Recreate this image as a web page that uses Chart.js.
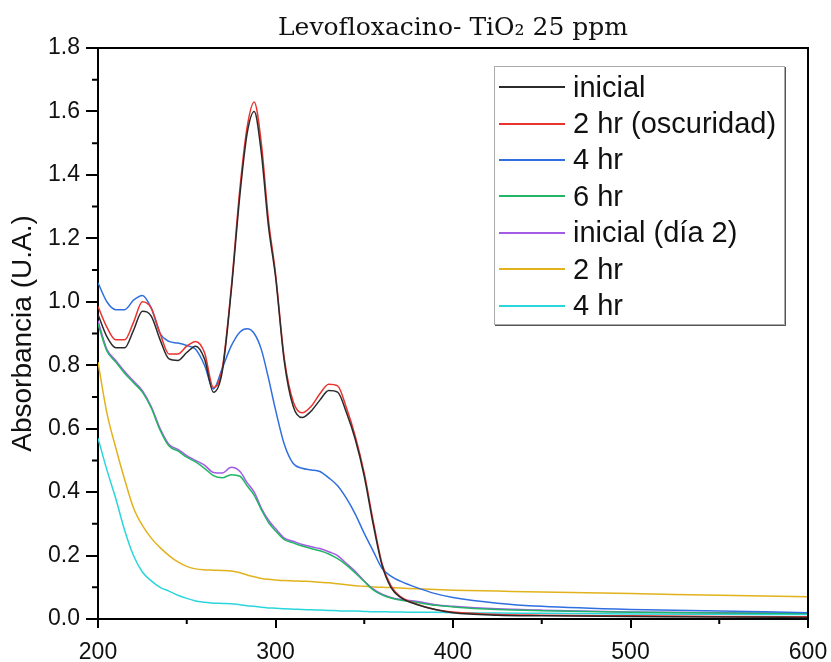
<!DOCTYPE html>
<html lang="es">
<head>
  <meta charset="UTF-8">
  <title>Levofloxacino- TiO2 25 ppm</title>
  <script src="https://cdn.jsdelivr.net/npm/chart.js"></script>
  <style>
    html, body { margin: 0; padding: 0; background: #fff; }
    #wrap { position: relative; width: 831px; height: 662px; }
    #legend {
      position: absolute; left: 494px; top: 66px; width: 291px; height: 259px;
      border: 1px solid #aaa; box-shadow: 1px 1px 0 #555; background: #fff;
      font-family: "Liberation Sans", Arial, sans-serif; font-size: 29px; color: #111;
      box-sizing: border-box; padding-top: 2px;
    }
    .row { display: flex; align-items: center; height: 36.4px; }
    .swatch { width: 66px; height: 2px; margin-left: 4px; margin-right: 8px; }
  </style>
</head>
<body>
  <div id="wrap">
    <canvas id="chart" width="831" height="662"></canvas>
    <div id="legend"></div>
  </div>
  <script>
    // longitud de onda (nm)
    const wl = [200,205,210,215,220,225,230,235,240,245,250,255,260,265,270,275,280,284,288,292,296,300,
                305,310,315,320,325,330,335,340,345,350,355,360,365,370,380,390,400,425,450,500,550,600];

    const inicial = [0.96,0.89,0.855,0.855,0.91,0.97,0.955,0.88,0.82,0.815,0.84,0.86,0.82,0.715,0.78,1.03,1.34,1.53,1.60,1.47,1.24,1.08,
                     0.81,0.67,0.635,0.655,0.69,0.72,0.715,0.65,0.565,0.45,0.30,0.17,0.10,0.07,0.045,0.03,0.02,0.012,0.01,0.008,0.006,0.005];
    const hr2Osc = [0.985,0.92,0.88,0.88,0.935,1.0,0.98,0.90,0.835,0.835,0.86,0.875,0.84,0.73,0.79,1.04,1.36,1.55,1.63,1.50,1.26,1.09,
                    0.82,0.685,0.65,0.67,0.71,0.74,0.735,0.665,0.575,0.46,0.31,0.175,0.105,0.072,0.046,0.03,0.022,0.014,0.012,0.01,0.008,0.007];
    const hr4 = [1.06,1.0,0.975,0.975,1.005,1.02,0.98,0.90,0.875,0.87,0.862,0.85,0.80,0.725,0.79,0.86,0.905,0.915,0.90,0.85,0.76,0.66,
                 0.55,0.49,0.475,0.47,0.465,0.445,0.42,0.38,0.33,0.27,0.215,0.16,0.135,0.12,0.098,0.08,0.068,0.05,0.04,0.03,0.025,0.02];
    const hr6 = [0.93,0.845,0.81,0.775,0.745,0.715,0.665,0.595,0.545,0.53,0.51,0.495,0.475,0.452,0.445,0.455,0.45,0.42,0.39,0.345,0.305,0.278,
                 0.25,0.24,0.23,0.222,0.215,0.205,0.19,0.17,0.145,0.118,0.092,0.076,0.066,0.06,0.052,0.043,0.038,0.03,0.026,0.021,0.019,0.017];
    const inicialDia2 = [0.94,0.85,0.815,0.78,0.75,0.72,0.67,0.60,0.55,0.535,0.515,0.50,0.485,0.462,0.46,0.478,0.465,0.43,0.40,0.35,0.312,0.285,
                         0.255,0.245,0.235,0.228,0.222,0.212,0.20,0.175,0.15,0.12,0.095,0.078,0.068,0.062,0.055,0.045,0.04,0.032,0.028,0.022,0.02,0.018];
    const hr2 = [0.81,0.65,0.54,0.44,0.35,0.295,0.255,0.225,0.20,0.18,0.166,0.158,0.155,0.154,0.153,0.151,0.146,0.139,0.133,0.128,0.125,0.123,
                 0.121,0.12,0.119,0.118,0.116,0.114,0.111,0.108,0.105,0.103,0.101,0.10,0.099,0.098,0.095,0.093,0.091,0.088,0.085,0.08,0.075,0.07];
    const hr4b = [0.57,0.47,0.38,0.28,0.2,0.148,0.12,0.10,0.088,0.075,0.065,0.057,0.053,0.05,0.049,0.048,0.045,0.042,0.04,0.037,0.035,0.034,
                  0.032,0.031,0.03,0.029,0.028,0.027,0.026,0.025,0.025,0.024,0.023,0.023,0.022,0.022,0.021,0.021,0.02,0.019,0.018,0.016,0.015,0.014];

    const seriesNames = ['inicial', '2 hr (oscuridad)', '4 hr', '6 hr', 'inicial (día 2)', '2 hr', '4 hr'];
    const seriesData = [inicial, hr2Osc, hr4, hr6, inicialDia2, hr2, hr4b];
    const seriesColors = ['#2b2b2b', '#e8332f', '#2f6fe0', '#22b566', '#a35be6', '#e2b21c', '#2ad6dc'];

    const font = '"Liberation Sans", Arial, sans-serif';

    // marco superior/derecho y marcas menores
    const framePlugin = {
      id: 'frame',
      afterDraw(chart) {
        const { ctx, chartArea: a, scales } = chart;
        ctx.save();
        ctx.strokeStyle = '#000';
        ctx.lineWidth = 2;
        ctx.beginPath();
        ctx.moveTo(a.left, a.top); ctx.lineTo(a.right, a.top); ctx.lineTo(a.right, a.bottom);
        for (let v = 0.1; v < 1.8; v += 0.2) {
          const y = scales.y.getPixelForValue(v);
          ctx.moveTo(a.left - 6, y); ctx.lineTo(a.left, y);
        }
        for (let v = 250; v < 600; v += 100) {
          const x = scales.x.getPixelForValue(v);
          ctx.moveTo(x, a.bottom); ctx.lineTo(x, a.bottom + 5);
        }
        ctx.stroke();
        ctx.restore();
      }
    };

    const chart = new Chart(document.getElementById('chart'), {
      type: 'line',
      data: {
        datasets: seriesNames.map((name, i) => ({
          label: name,
          data: wl.map((x, j) => ({ x: x, y: seriesData[i][j] })),
          borderColor: seriesColors[i],
          borderWidth: 1.5,
          pointRadius: 0,
          cubicInterpolationMode: 'monotone',
          fill: false
        }))
      },
      options: {
        responsive: false,
        animation: false,
        layout: { padding: { left: 0, right: 23, top: 0, bottom: 0 } },
        plugins: {
          legend: { display: false },
          tooltip: { enabled: false },
          title: {
            display: true,
            fullSize: false,
            text: 'Levofloxacino- TiO₂ 25 ppm',
            color: '#111',
            font: { family: '"DejaVu Serif", "Liberation Serif", serif', size: 25, weight: 'normal' },
            padding: { top: 13, bottom: 5 }
          }
        },
        scales: {
          x: {
            type: 'linear',
            min: 200, max: 600,
            border: { color: '#000', width: 2 },
            grid: { drawOnChartArea: false, color: '#000', lineWidth: 2, tickLength: 9 },
            ticks: { stepSize: 100, color: '#111', padding: 11, font: { family: font, size: 23 } },
            afterFit(scale) {
              scale.height = 43;
              scale.paddingLeft = 0;
              scale.paddingRight = 0;
            }
          },
          y: {
            min: 0, max: 1.8,
            border: { color: '#000', width: 2 },
            grid: { drawOnChartArea: false, color: '#000', lineWidth: 2, tickLength: 12 },
            ticks: {
              stepSize: 0.2, color: '#111', padding: 6, font: { family: font, size: 23 },
              callback: v => v.toFixed(1)
            },
            title: {
              display: true, text: 'Absorbancia (U.A.)', color: '#111',
              font: { family: font, size: 28 }, padding: { top: 6, bottom: 0 }
            },
            afterFit(scale) {
              scale.width = 98;
              scale.paddingTop = 0;
              scale.paddingBottom = 0;
            }
          }
        }
      },
      plugins: [framePlugin]
    });

    // leyenda en HTML, dentro del área del gráfico
    const legend = document.getElementById('legend');
    chart.data.datasets.forEach(ds => {
      const row = document.createElement('div');
      row.className = 'row';
      row.innerHTML = `<span class="swatch" style="background:${ds.borderColor}"></span><span>${ds.label}</span>`;
      legend.appendChild(row);
    });
  </script>
</body>
</html>
